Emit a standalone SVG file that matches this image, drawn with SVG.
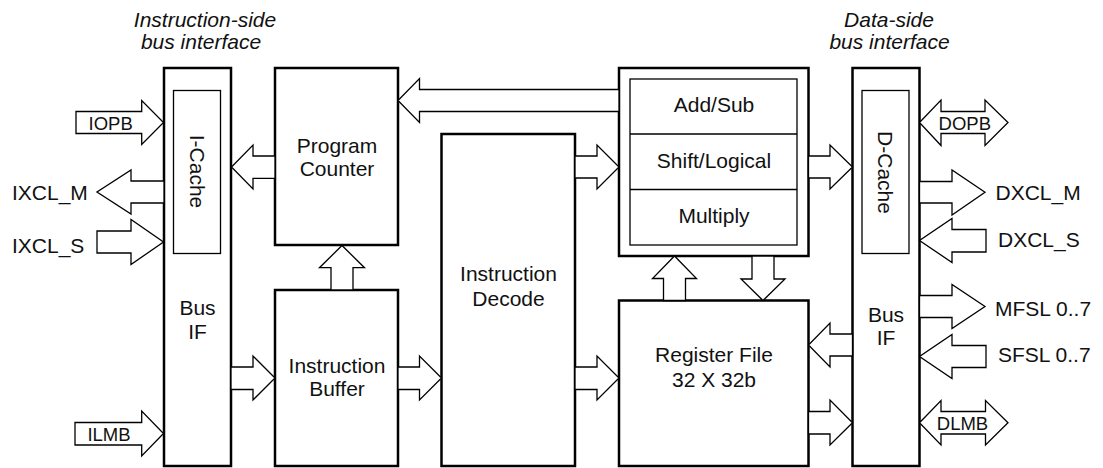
<svg xmlns="http://www.w3.org/2000/svg" width="1103" height="468" viewBox="0 0 1103 468">
<style>
.box{fill:#fff;stroke:#000;stroke-width:2.5}
.thin{fill:#fff;stroke:#000;stroke-width:1.3}
.arr{fill:#fff;stroke:#000;stroke-width:1.3;stroke-linejoin:miter}
text{font-family:"Liberation Sans",Arial,sans-serif;fill:#111}
.lbl{font-size:21px;text-anchor:middle}
.sm{font-size:18.5px;text-anchor:middle}
.ext{font-size:21px}
.title{font-size:21px;font-style:italic;text-anchor:middle}
</style>
<rect width="1103" height="468" fill="#fff"/>
<g id="titles">
<text class="title" x="205" y="27">Instruction-side</text>
<text class="title" x="201" y="49">bus interface</text>
<text class="title" x="889" y="27">Data-side</text>
<text class="title" x="889.5" y="49">bus interface</text>
</g>
<g id="i-bus-if">
<rect class="box" x="164" y="68" width="67" height="398"/>
<text class="lbl" x="197.5" y="315">Bus</text>
<text class="lbl" x="197.5" y="339">IF</text>
</g>
<g id="i-cache">
<rect class="thin" x="173.5" y="90.5" width="47" height="163"/>
<text class="lbl" transform="translate(189.5,171.5) rotate(90)" x="0" y="0">I-Cache</text>
</g>
<g id="program-counter">
<rect class="box" x="275" y="68" width="123" height="177"/>
<text class="lbl" x="337" y="153">Program</text>
<text class="lbl" x="337" y="175.5">Counter</text>
</g>
<g id="instruction-buffer">
<rect class="box" x="275" y="290" width="123" height="176"/>
<text class="lbl" x="337" y="372.5">Instruction</text>
<text class="lbl" x="337" y="396">Buffer</text>
</g>
<g id="instruction-decode">
<rect class="box" x="441.5" y="134" width="133.5" height="332"/>
<text class="lbl" x="508.5" y="281">Instruction</text>
<text class="lbl" x="508.5" y="305.5">Decode</text>
</g>
<g id="alu">
<rect class="box" x="619" y="68" width="189.5" height="188"/>
<rect class="thin" x="630" y="79" width="167" height="166"/>
<line x1="630" y1="134" x2="797" y2="134" stroke="#000" stroke-width="1.3"/>
<line x1="630" y1="189.5" x2="797" y2="189.5" stroke="#000" stroke-width="1.3"/>
<text class="lbl" x="714" y="111.5">Add/Sub</text>
<text class="lbl" x="714" y="168">Shift/Logical</text>
<text class="lbl" x="714" y="223">Multiply</text>
</g>
<g id="register-file">
<rect class="box" x="619" y="300.5" width="189.5" height="165.5"/>
<text class="lbl" x="714" y="361.5">Register File</text>
<text class="lbl" x="714" y="386.5">32 X 32b</text>
</g>
<g id="d-bus-if">
<rect class="box" x="852.5" y="68" width="67" height="398"/>
<text class="lbl" x="886" y="321.5">Bus</text>
<text class="lbl" x="886" y="345">IF</text>
</g>
<g id="d-cache">
<rect class="thin" x="862" y="90.5" width="47" height="163"/>
<text class="lbl" transform="translate(878,172.5) rotate(90)" x="0" y="0">D-Cache</text>
</g>
<g id="connectors">
<!-- left external -->
<polygon class="arr" points="76,111.5 141.7,111.5 141.7,100.5 163.5,122.5 141.7,144.5 141.7,133.5 76,133.5"/>
<polygon class="arr" points="164,181 131,181 131,170 97,192 131,214 131,203 164,203"/>
<polygon class="arr" points="97,231 131,231 131,219.5 163.5,242 131,264.5 131,253 97,253"/>
<polygon class="arr" points="75,422.5 141.7,422.5 141.7,411 163.5,433.5 141.7,456 141.7,445 75,445"/>
<!-- internal -->
<polygon class="arr" points="275,156 253,156 253,145 231.5,167 253,189 253,178.3 275,178.3"/>
<polygon class="arr" points="231,367 253,367 253,356 275,378 253,400 253,389.5 231,389.5"/>
<polygon class="arr" points="331,290 331,267.7 319.5,267.7 342,245.5 364.5,267.7 353,267.7 353,290"/>
<polygon class="arr" points="398,367 419.5,367 419.5,356 441.5,378 419.5,400 419.5,389.5 398,389.5"/>
<polygon class="arr" points="619,89.5 419.5,89.5 419.5,78.5 398,100.5 419.5,122.5 419.5,111.5 619,111.5"/>
<polygon class="arr" points="575,156 597,156 597,145 619,167 597,189 597,178 575,178"/>
<polygon class="arr" points="575,367 597,367 597,356 619,378 597,400 597,389.5 575,389.5"/>
<polygon class="arr" points="663.5,300.5 663.5,278.5 652.5,278.5 674.5,256 696.5,278.5 685.5,278.5 685.5,300.5"/>
<polygon class="arr" points="752,256 752,279 741,279 763,300.5 785,279 774,279 774,256"/>
<polygon class="arr" points="808.5,156 830,156 830,145 852.5,167 830,189 830,178 808.5,178"/>
<polygon class="arr" points="852.5,334 830,334 830,323 808.5,345 830,367 830,356 852.5,356"/>
<polygon class="arr" points="808.5,411.5 830,411.5 830,400 852.5,422.7 830,445 830,434 808.5,434"/>
<!-- right external -->
<polygon class="arr" points="919.5,122.5 941,100 941,111.5 985,111.5 985,100 1008,122.5 985,145.5 985,133.5 941,133.5 941,145.5"/>
<polygon class="arr" points="919.5,181.5 952,181.5 952,170 985,192.3 952,215 952,203 919.5,203"/>
<polygon class="arr" points="986,229.5 952,229.5 952,218.5 919.5,240.5 952,262.5 952,252 986,252"/>
<polygon class="arr" points="919.5,295.5 952,295.5 952,284.5 985,306.5 952,328.5 952,317.5 919.5,317.5"/>
<polygon class="arr" points="986,345.5 952,345.5 952,334.5 919.5,356.5 952,378.5 952,367.5 986,367.5"/>
<polygon class="arr" points="919.5,422.7 941,400.5 941,411.5 985.5,411.5 985.5,400.5 1008,422.7 985.5,445 985.5,434 941,434 941,445"/>
</g>
<g id="labels">
<text class="sm" x="110.7" y="130">IOPB</text>
<text class="sm" x="109" y="440.5">ILMB</text>
<text class="sm" x="964.8" y="129.5">DOPB</text>
<text class="sm" x="962.5" y="429.5">DLMB</text>
<text class="ext" x="12" y="199.5">IXCL_M</text>
<text class="ext" x="12" y="253">IXCL_S</text>
<text class="ext" x="995.5" y="200">DXCL_M</text>
<text class="ext" x="998" y="246.5">DXCL_S</text>
<text class="ext" x="995" y="316">MFSL 0..7</text>
<text class="ext" x="998" y="362">SFSL 0..7</text>
</g>
</svg>
